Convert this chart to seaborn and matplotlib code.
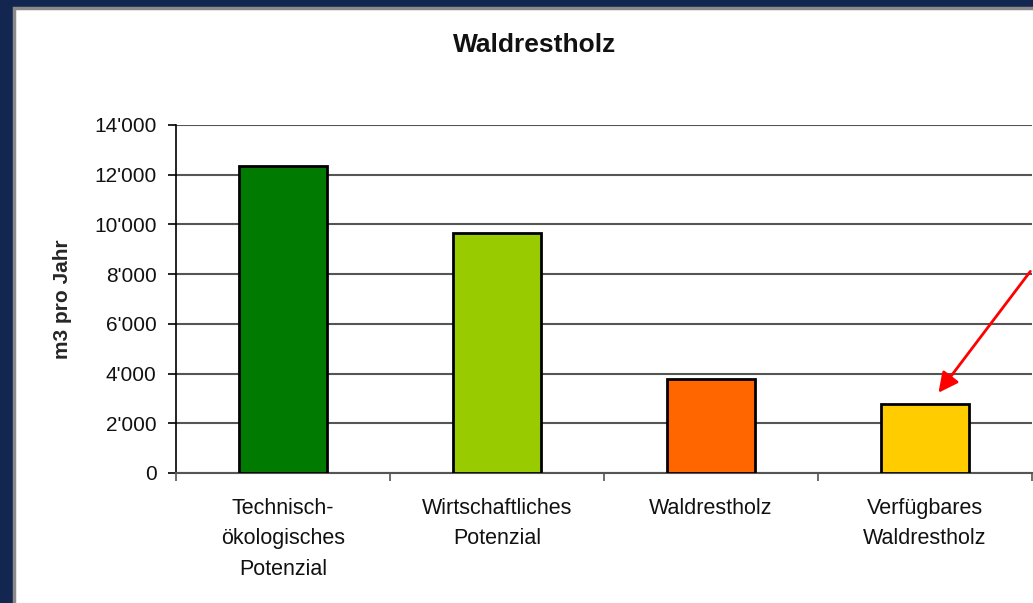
import matplotlib
matplotlib.use("Agg")
import matplotlib.pyplot as plt
import matplotlib.patches as mpatches
from matplotlib.ticker import FuncFormatter, FixedLocator
import seaborn as sns
import pandas as pd

categories = ["Technisch-\nökologisches\nPotenzial", "Wirtschaftliches\nPotenzial",
              "Waldrestholz", "Verfügbares\nWaldrestholz"]
values = [12350, 9640, 3780, 2780]
bar_colors = ["#007a00", "#99cc00", "#ff6600", "#ffcc00"]
yticks = [0, 2000, 4000, 6000, 8000, 10000, 12000, 14000]
title = "Waldrestholz"
ylabel = "m3 pro Jahr"

sns.set_theme(style="white")
plt.rcParams["font.family"] = ["Liberation Sans", "DejaVu Sans"]

df = pd.DataFrame({"cat": categories, "val": values})

fig = plt.figure(figsize=(10.33, 6.03), dpi=100)
fig.patch.set_facecolor("#13264f")
# white slide panel
fig.patches.append(mpatches.Rectangle((14 / 1033, -0.01), 1.0, 1.01 - 8 / 603,
                                      transform=fig.transFigure, facecolor="white",
                                      edgecolor="#8a8a8a", linewidth=2.5, zorder=-10))

ax = fig.add_axes([176 / 1033, 1 - 473 / 603, (1032 - 176) / 1033, (473 - 125) / 603])
ax.set_zorder(1)
ax.set_facecolor("none")

sns.barplot(data=df, x="cat", y="val", hue="cat", palette=bar_colors, legend=False,
            saturation=1, width=0.41, edgecolor="black", linewidth=2, ax=ax, zorder=3)

ax.set_ylim(0, 14000)
ax.set_xlim(-0.5, 3.5)
ax.set_yticks(yticks)
ax.yaxis.set_major_formatter(FuncFormatter(lambda v, p: f"{int(v):,}".replace(",", "'")))
ax.grid(axis="y", color="#555555", linewidth=1.5, zorder=0)
ax.set_axisbelow(True)

for s in ["top", "right"]:
    ax.spines[s].set_visible(False)
ax.spines["left"].set_color("black")
ax.spines["left"].set_linewidth(1.2)
ax.spines["bottom"].set_color("#555555")
ax.spines["bottom"].set_linewidth(1.5)

ax.tick_params(axis="y", which="major", left=True, length=6, width=1.2, color="black",
               labelsize=15, pad=8, labelcolor="#111111")
ax.tick_params(axis="x", which="major", bottom=False, labelsize=15.5, pad=12,
               labelcolor="#111111")
ax.xaxis.set_minor_locator(FixedLocator([-0.5, 0.5, 1.5, 2.5, 3.5]))
ax.tick_params(axis="x", which="minor", bottom=True, length=6, width=1.2, color="#555555")
for lbl in ax.get_xticklabels():
    lbl.set_verticalalignment("top")
    lbl.set_linespacing(1.58)

ax.set_xlabel("")
ax.set_ylabel(ylabel, fontsize=15, fontweight="bold")
ax.yaxis.set_label_coords(-(176 - 72) / (1032 - 176), 0.5)

fig.text(535 / 1033, 1 - 45 / 603, title, ha="center", va="center",
         fontsize=19, fontweight="bold", color="#111111")

ax.annotate("", xy=(3.055, 3140), xytext=(3.5, 8200),
            arrowprops=dict(arrowstyle="-|>", color="red", lw=2, mutation_scale=30),
            annotation_clip=False, zorder=5)

fig.savefig("out.png", dpi=100, facecolor=fig.get_facecolor())
